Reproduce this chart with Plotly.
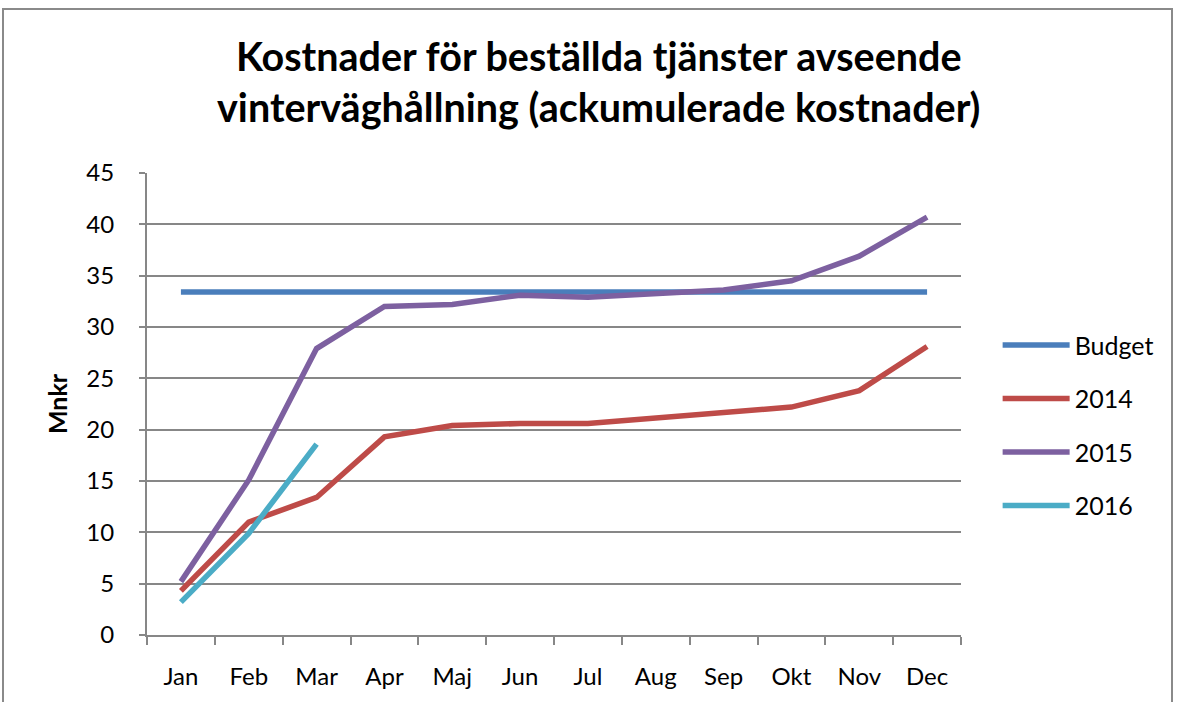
import plotly.graph_objects as go

months = ["Jan", "Feb", "Mar", "Apr", "Maj", "Jun", "Jul", "Aug", "Sep", "Okt", "Nov", "Dec"]
budget = [33.4] * 12
y2014 = [4.3, 11.0, 13.4, 19.3, 20.4, 20.6, 20.6, 21.1, 21.6, 22.2, 23.8, 28.1]
y2015 = [5.2, 15.1, 27.9, 32.0, 32.2, 33.1, 32.9, 33.3, 33.6, 34.5, 36.9, 40.7]
y2016 = [3.2, 9.9, 18.6]

series = [
    ("Budget", budget, "#4A7EBB"),
    ("2014", y2014, "#BE4B48"),
    ("2015", y2015, "#7D60A0"),
    ("2016", y2016, "#4BACC6"),
]

fig = go.Figure()
for i, (name, vals, col) in enumerate(series):
    fig.add_trace(go.Scatter(
        x=months[:len(vals)], y=vals, name=name, mode="lines",
        line=dict(color=col, width=5.5), legendgroup=name,
    ))

grid = "#878787"
fig.update_layout(
    width=1182, height=702,
    margin=dict(l=147, r=221, t=173, b=67),
    paper_bgcolor="white", plot_bgcolor="white",
    font=dict(family="Lato, Carlito, Calibri, sans-serif", color="black", size=24),
    showlegend=True,
    legend=dict(x=1.045, y=0.454, xanchor="left", yanchor="middle",
                font=dict(size=25), tracegroupgap=18, traceorder="grouped",
                itemwidth=67, bgcolor="rgba(0,0,0,0)"),
    annotations=[dict(
        text="<b>Kostnader för beställda tjänster avseende<br>vinterväghållning (ackumulerade kostnader)</b>",
        xref="paper", yref="paper", x=0.555, y=1.2, xanchor="center", yanchor="middle",
        showarrow=False, font=dict(size=39.5, family="Lato, Carlito, sans-serif"),
        align="center",
    )],
    shapes=[dict(type="rect", xref="paper", yref="paper",
                 x0=(3 - 147) / 814, x1=(1172 - 147) / 814,
                 y0=-0.3, y1=(635 - 9) / 462,
                 line=dict(color="#8a8a8a", width=2), layer="below")],
)
fig.update_xaxes(
    type="category", categoryorder="array", categoryarray=months,
    range=[-0.5, 11.5], tickson="boundaries", ticks="outside", ticklen=8,
    tickcolor=grid, tickwidth=2, showline=True, linecolor=grid, linewidth=2,
    showgrid=False, tickfont=dict(size=24), ticklabelstandoff=19,
)
fig.update_yaxes(
    range=[0, 45], dtick=5, ticks="outside", ticklen=6, tickcolor=grid, tickwidth=2,
    showline=True, linecolor=grid, linewidth=2, showgrid=True, gridcolor=grid,
    gridwidth=2, zeroline=False, tickfont=dict(size=24), ticklabelstandoff=20,
    title=dict(text="<b>Mnkr</b>", font=dict(size=25), standoff=12),
)
fig.write_html("out.html", post_script="document.body.style.margin='0';",
               config={"displayModeBar": False})
